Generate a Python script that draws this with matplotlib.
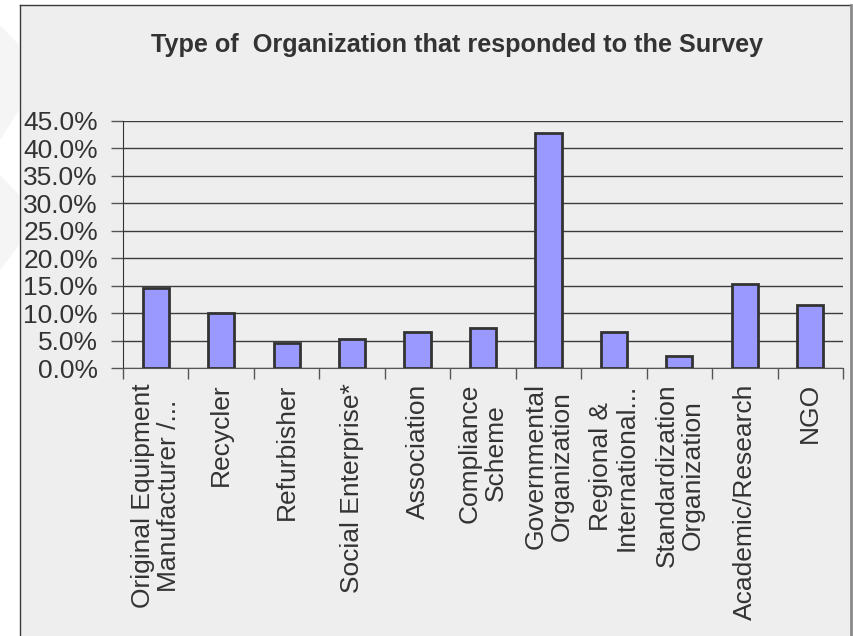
import matplotlib
matplotlib.use("Agg")
import matplotlib.pyplot as plt
from matplotlib.patches import Rectangle, Polygon
from matplotlib.lines import Line2D
from matplotlib.ticker import PercentFormatter, FixedLocator

# survey share per organization type
categories = [
    "Original Equipment\nManufacturer /...",
    "Recycler",
    "Refurbisher",
    "Social Enterprise*",
    "Association",
    "Compliance\nScheme",
    "Governmental\nOrganization",
    "Regional &\nInternational...",
    "Standardization\nOrganization",
    "Academic/Research",
    "NGO",
]
shares = [14.5, 10.0, 4.6, 5.3, 6.6, 7.2, 42.8, 6.6, 2.2, 15.3, 11.4]
y_ticks = [0, 5, 10, 15, 20, 25, 30, 35, 40, 45]
title = "Type of  Organization that responded to the Survey"

plt.rcParams["font.family"] = ["Liberation Sans", "DejaVu Sans"]

W, H = 854, 636
fig = plt.figure(figsize=(W / 100, H / 100), dpi=100)
fig.patch.set_facecolor("white")

# faint background shapes on the left margin
for pts in ([(0, 25), (19, 45), (19, 110), (0, 140)],
            [(0, 175), (19, 195), (19, 245), (0, 270)]):
    fig.patches.append(Polygon([(x / W, 1 - y / H) for x, y in pts],
                               closed=True, transform=fig.transFigure,
                               facecolor="#f5f5f5", edgecolor="none", zorder=-2))

# chart panel
x0, y0, x1 = 19.5, 5, 851
fig.patches.append(Rectangle((x0 / W, 0), (x1 - x0) / W, 1 - y0 / H,
                             transform=fig.transFigure, facecolor="#eeeeee",
                             edgecolor="none", zorder=-1))
fig.lines.append(Line2D([x0 / W, x0 / W], [0, 1 - y0 / H], transform=fig.transFigure,
                        color="#3a3a3a", lw=1.0))
fig.lines.append(Line2D([x0 / W, x1 / W], [1 - y0 / H, 1 - y0 / H],
                        transform=fig.transFigure, color="#3a3a3a", lw=1.0))
fig.lines.append(Line2D([x1 / W, x1 / W], [0, 1 - y0 / H], transform=fig.transFigure,
                        color="#8a8a8a", lw=2.0))

ax = fig.add_axes([123 / W, 1 - 368 / H, (843 - 123) / W, (368 - 121) / H])
ax.set_facecolor("none")
ax.set_zorder(1)

pos = list(range(len(categories)))
ax.bar(pos, shares, width=0.4, color="#9999ff", edgecolor="#333333",
       linewidth=2.0, zorder=3)

ax.set_xlim(-0.5, len(categories) - 0.5)
ax.set_ylim(0, 45)
ax.set_yticks(y_ticks)
ax.yaxis.set_major_formatter(PercentFormatter(decimals=1))
ax.yaxis.grid(True, color="#3c3c3c", linewidth=1.0, zorder=1)

ax.set_xticks(pos)
ax.set_xticklabels(categories, rotation=90, ha="center", va="top",
                   multialignment="center", linespacing=1.1)
ax.xaxis.set_minor_locator(FixedLocator([p - 0.5 for p in pos] + [len(pos) - 0.5]))
ax.tick_params(axis="x", which="major", length=0, pad=11, labelsize=19,
               labelcolor="#333333")
ax.tick_params(axis="x", which="minor", length=8, width=1, color="#555555")
ax.tick_params(axis="y", length=9, width=1, color="#555555", pad=9,
               labelsize=19, labelcolor="#333333")

for side in ("top", "right"):
    ax.spines[side].set_visible(False)
ax.spines["left"].set_color("#333333")
ax.spines["bottom"].set_color("#555555")

fig.text(457 / W, 1 - 52 / H, title, ha="center", va="baseline",
         fontsize=18.2, fontweight="bold", color="#333333")

fig.savefig("out.png", dpi=100)
